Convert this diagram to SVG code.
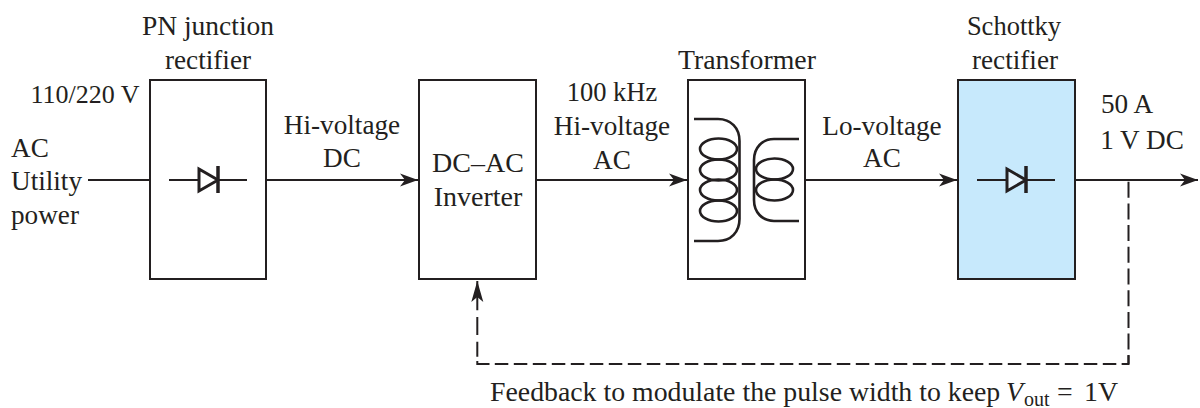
<svg xmlns="http://www.w3.org/2000/svg" width="1200" height="408" viewBox="0 0 1200 408">
<style>
text{font-family:"Liberation Serif","Times New Roman",serif;font-size:27.2px;fill:#231f20;text-anchor:middle}
.box{fill:#fff;stroke:#231f20;stroke-width:2}
.ln{fill:none;stroke:#231f20;stroke-width:2}
.coil{fill:none;stroke:#231f20;stroke-width:2.600}
.d{fill:#fff;stroke:#231f20;stroke-width:3}
.bar{stroke:#231f20;stroke-width:3.500}
.head{fill:#231f20}
.s{text-anchor:start}
</style>
<defs>
<marker id="a" markerUnits="userSpaceOnUse" markerWidth="20" markerHeight="14" refX="18" refY="7" orient="auto"><path class="head" d="M0 0.500L18 7L0 13.500L5 7Z"/></marker>
<marker id="b" markerUnits="userSpaceOnUse" markerWidth="22" markerHeight="14" refX="21" refY="7" orient="auto"><path class="head" d="M0 1L21 7L0 13L5 7Z"/></marker>
</defs>
<g id="connectors">
<path class="ln" d="M88 180H149"/>
<path class="ln" d="M266 180H418" marker-end="url(#a)"/>
<path class="ln" d="M536 180H687" marker-end="url(#a)"/>
<path class="ln" d="M805 180H957" marker-end="url(#a)"/>
<path class="ln" d="M1075 180H1198" marker-end="url(#a)"/>
<path class="ln" d="M1128.500 181.700V364" stroke-dasharray="16 5.700"/>
<path class="ln" d="M1128.500 355V364H1121.800"/>
<path class="ln" d="M1128.500 364H477.300" stroke-dasharray="13.500 5.500" stroke-dashoffset="6.800"/>
<path class="ln" d="M477.300 361V364H489.300"/>
<path class="ln" d="M477.300 356.700V281" stroke-dasharray="15 6.700 18 6.700 30" marker-end="url(#b)"/>
</g>
<g id="pn-rectifier">
<rect class="box" x="150" y="80" width="116" height="199"/>
<path class="ln" d="M169 180H247"/>
<path class="d" d="M199 169L218 180L199 191Z"/>
<path class="bar" d="M218 166V193"/>
<text x="208" y="35" style="font-size:27.500px">PN junction</text>
<text x="208" y="69">rectifier</text>
</g>
<g id="inverter">
<rect class="box" x="419" y="80" width="117" height="199"/>
<text x="478" y="172" style="font-size:28px">DC–AC</text>
<text x="478" y="206" style="font-size:28px">Inverter</text>
</g>
<g id="transformer">
<rect class="box" x="688" y="80" width="117" height="199"/>
<path class="coil" d="M694 119H718C731 119 739.500 128 739.500 141V219C739.500 232 731 241 718 241H694"/>
<ellipse class="coil" cx="718.500" cy="149" rx="18.500" ry="10.500"/>
<ellipse class="coil" cx="718.500" cy="170" rx="18.500" ry="10.500"/>
<ellipse class="coil" cx="718.500" cy="190" rx="18.500" ry="10.500"/>
<ellipse class="coil" cx="718.500" cy="211" rx="18.500" ry="10.500"/>
<path class="coil" d="M799 139H774C762 139 754 148 754 160V200C754 212 762 221 774 221H799"/>
<ellipse class="coil" cx="774.500" cy="169" rx="18.500" ry="10.500"/>
<ellipse class="coil" cx="774.500" cy="190" rx="18.500" ry="10.500"/>
<text x="747" y="69" style="font-size:27.800px">Transformer</text>
</g>
<g id="schottky-rectifier">
<rect class="box" x="958" y="80" width="117" height="199" style="fill:#c7e9fc"/>
<path class="ln" d="M977 180H1055"/>
<path class="d" d="M1007 169L1026 180L1007 191Z" style="fill:#e3f3fd"/>
<path class="bar" d="M1026 166V193"/>
<text x="1014" y="35" style="font-size:26.500px">Schottky</text>
<text x="1015" y="69">rectifier</text>
</g>
<g id="labels">
<text x="85" y="103" style="font-size:26px">110/220 V</text>
<text x="11" y="157" class="s">AC</text>
<text x="11" y="190" class="s">Utility</text>
<text x="11" y="224" class="s">power</text>
<text x="342" y="134">Hi-voltage</text>
<text x="342" y="167">DC</text>
<text x="612" y="101" style="font-size:26.500px">100 kHz</text>
<text x="612" y="135">Hi-voltage</text>
<text x="612" y="169">AC</text>
<text x="882" y="135">Lo-voltage</text>
<text x="882" y="167">AC</text>
<text x="1127" y="113">50 A</text>
<text x="1142" y="149">1 V DC</text>
<text x="490" y="401" class="s" style="font-size:27.800px">Feedback to modulate the pulse width to keep <tspan x="1006" font-style="italic">V</tspan><tspan x="1024" dy="5" style="font-size:20px">out</tspan><tspan x="1057" dy="-5">=</tspan><tspan x="1084">1V</tspan></text>
</g>
</svg>
